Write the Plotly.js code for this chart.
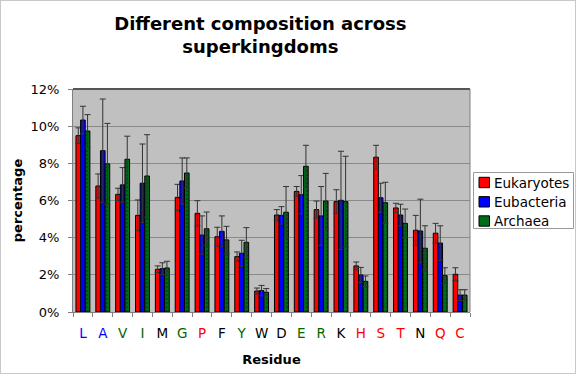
<!DOCTYPE html>
<html><head><meta charset="utf-8">
<script src="https://cdn.plot.ly/plotly-3.0.1.min.js"></script>
<style>body{margin:0;padding:0;background:#fff}#wrap{position:relative;width:576px;height:374px}#frame{position:absolute;left:0;top:0;width:574px;height:372px;border:1px solid #c8c8c8;pointer-events:none}</style>
</head><body>
<div id="wrap"><div id="chart" style="width:576px;height:374px"></div><div id="frame"></div></div>
<script>
const residues = ['L','A','V','I','M','G','P','F','Y','W','D','E','R','K','H','S','T','N','Q','C'];
const residueColors = ['#0000FF','#0000FF','#006600','#006600','#000000','#006600','#FF0000','#000000','#006600','#000000','#000000','#006600','#006600','#000000','#FF0000','#FF0000','#FF0000','#000000','#FF0000','#FF0000'];
const seriesNames = ['Eukaryotes','Eubacteria','Archaea'];
const seriesColors = ['#FF0000','#0000FF','#006B1A'];
const eukaryotes = [9.49,6.78,6.33,5.20,2.30,6.17,5.31,4.05,2.98,1.13,5.22,6.49,5.51,5.94,2.48,8.33,5.60,4.40,4.24,2.03];
const eukaryotesErr = [0.42,0.65,0.33,0.83,0.18,0.70,0.68,0.51,0.25,0.16,0.29,0.26,0.46,0.64,0.21,0.64,0.25,0.80,0.53,0.35];
const eubacteria = [10.33,8.68,6.84,6.93,2.33,7.05,4.14,4.34,3.16,1.15,5.20,6.31,5.17,6.01,1.99,6.15,5.22,4.36,3.71,0.91];
const eubacteriaErr = [0.74,2.78,0.93,2.11,0.32,1.24,1.03,0.83,0.70,0.28,0.47,1.03,1.58,2.64,0.41,0.78,0.58,1.71,0.93,0.29];
const archaea = [9.74,7.97,8.22,7.32,2.37,7.48,4.48,3.88,3.75,1.06,5.37,7.84,5.97,5.94,1.65,5.88,4.77,3.43,1.96,0.91];
const archaeaErr = [0.88,2.18,1.24,2.22,0.36,0.81,0.90,0.73,0.79,0.20,1.38,1.13,1.49,2.44,0.29,1.10,0.77,1.21,0.42,0.29];
const yTicks = [0,2,4,6,8,10,12];

const pct = a => a.map(v => v/100);
function series(name, vals, errs, color, pattern){
  const t = {
    type:'bar', name:name, x:residues, y:pct(vals), showlegend:false,
    marker:{color:color, line:{color:'#000000', width:1}},
    error_y:{type:'data', array:pct(errs), visible:true, color:'#333333', thickness:1, width:3}
  };
  if(pattern) t.marker.pattern = pattern;
  return t;
}
const archPattern = {shape:'.', fgcolor:'#003A0C', bgcolor:'#006B1A', size:4, solidity:0.15};
const data = [
  series(seriesNames[0], eukaryotes, eukaryotesErr, seriesColors[0]),
  series(seriesNames[1], eubacteria, eubacteriaErr, seriesColors[1]),
  series(seriesNames[2], archaea, archaeaErr, seriesColors[2], archPattern)
];
const font = 'DejaVu Sans, Verdana, sans-serif';

// plot area in pixels: x 73..470, y 89..312
const PX = px => (px-73)/397, PY = py => (312-py)/223;
const shapes = [
  {type:'line', xref:'paper', yref:'paper', x0:0, x1:1, y0:1, y1:1, line:{color:'#555555', width:2}},
  {type:'line', xref:'paper', yref:'paper', x0:1, x1:1, y0:0, y1:1, line:{color:'#808080', width:1}},
  {type:'rect', xref:'paper', yref:'paper', x0:PX(473.5), x1:PX(573.5), y0:PY(228.5), y1:PY(172.5), line:{color:'#9a9a9a', width:1}, fillcolor:'#FFFFFF'}
];
const annotations = [];
const rowY = [182.5, 201.8, 221];
seriesNames.forEach((n,i)=>{
  shapes.push({type:'rect', xref:'paper', yref:'paper', x0:PX(479), x1:PX(489.5), y0:PY(rowY[i]+5.2), y1:PY(rowY[i]-5.2), line:{color:'#000', width:1}, fillcolor:seriesColors[i]});
  annotations.push({xref:'paper', yref:'paper', x:PX(492), y:PY(rowY[i]), xanchor:'left', yanchor:'middle', showarrow:false, text:n, font:{family:font, size:13.5, color:'#000'}});
});

const layout = {
  width:576, height:374,
  margin:{l:73, r:106, t:89, b:62},
  paper_bgcolor:'#FFFFFF', plot_bgcolor:'#C0C0C0',
  font:{family:font, size:13, color:'#000'},
  title:{text:'<b>Different composition across<br>superkingdoms</b>', font:{family:font, size:18, color:'#000'}, x:0.452, xanchor:'center', y:0.92, yanchor:'top'},
  barmode:'group', bargap:0.3, bargroupgap:0,
  showlegend:false,
  xaxis:{
    type:'category', tickmode:'array', tickvals:residues,
    ticktext:residues.map((r,i)=>'<span style="color:'+residueColors[i]+'">'+r+'</span>'),
    tickangle:0, ticklabelstandoff:9,
    tickson:'boundaries', ticks:'outside', ticklen:4, tickcolor:'#808080',
    showline:true, linecolor:'#808080', linewidth:1,
    tickfont:{family:font, size:13.5},
    title:{text:'<b>Residue</b>', font:{family:font, size:13}, standoff:14},
    showgrid:false
  },
  yaxis:{
    range:[0,0.12], tickmode:'array', tickvals:pct(yTicks), ticktext:yTicks.map(v=>v+'%'),
    ticks:'outside', ticklen:4, tickcolor:'#808080', ticklabelstandoff:6,
    showline:true, linecolor:'#808080', linewidth:1,
    gridcolor:'#8A8A8A', gridwidth:1, zeroline:false,
    tickfont:{family:font, size:13},
    title:{text:'<b>percentage</b>', font:{family:font, size:13}, standoff:4},
    automargin:false
  },
  shapes:shapes,
  annotations:annotations
};
Plotly.newPlot('chart', data, layout, {displayModeBar:false, staticPlot:true});
</script>
</body></html>
